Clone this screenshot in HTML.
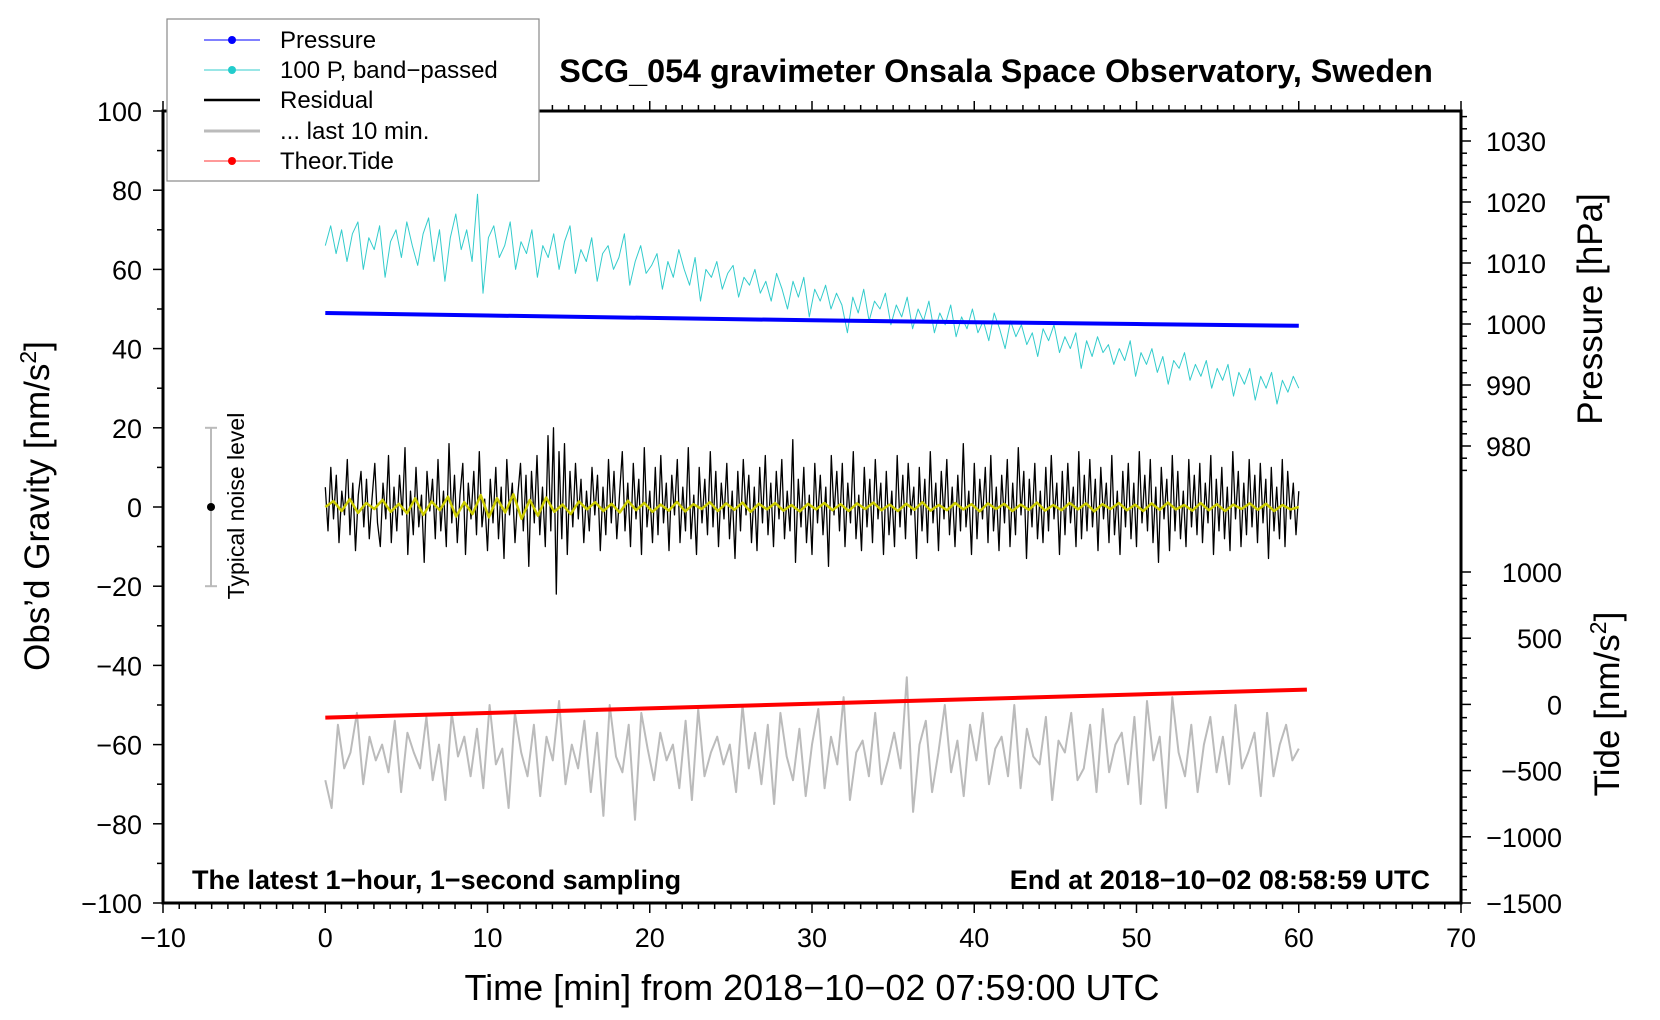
<!DOCTYPE html>
<html><head><meta charset="utf-8">
<style>
body{margin:0;background:#fff;}
svg{display:block;font-family:"Liberation Sans",sans-serif;}
</style></head>
<body>
<svg id="chart" width="1660" height="1020" viewBox="0 0 1660 1020">
<g id="plot"></g>
</svg>
<script>
// ---- data ----
const xTicks = [-10,0,10,20,30,40,50,60,70];
const yTicks = [100,80,60,40,20,0,-20,-40,-60,-80,-100];
const pTicks = [1030,1020,1010,1000,990,980];
const tTicks = [1000,500,0,-500,-1000,-1500];
const pressureTime = [0.0, 10, 20, 30, 40, 50, 60];
const pressureVals = [1001.8, 1001.4, 1001.0, 1000.6, 1000.3, 1000.0, 999.7];
const tideTime = [0, 60.5];
const tideVals = [-100, 112];
const cyanVals = [66,71,64,70,62,69,72,60,68,65,71,58,67,70,63,72,66,61,69,73,62,70,57,68,74,65,70,62,79,54,68,71,63,66,72,60,67,64,70,58,
66,63,69,60,67,71,59,65,62,68,57,64,66,60,63,69,56,62,66,59,61,64,55,62,58,65,60,56,63,52,60,58,62,55,59,61,53,58,56,60,
54,57,52,59,55,50,57,53,58,48,55,52,56,50,54,51,44,53,49,55,47,52,50,54,46,51,48,53,45,50,47,52,44,49,46,51,43,48,45,50,
44,47,42,49,45,40,47,43,46,41,44,38,45,42,46,39,43,40,44,35,42,38,43,39,41,36,40,37,42,33,39,36,40,34,38,31,37,35,39,32,
36,33,37,30,35,32,36,28,34,31,35,27,33,30,34,26,32,29,33,30];
const resVals = [5,-6,10,-3,8,-9,4,-2,12,-7,6,-11,3,9,-5,7,-8,2,11,-4,-10,6,-3,13,-9,5,-6,8,-2,15,-12,4,-7,10,-5,3,-14,9,-1,7,
-8,12,-6,4,-10,16,-4,8,-9,3,11,-12,6,-3,9,-7,14,-5,2,-11,7,-4,10,-8,5,-13,12,-2,6,-9,3,11,-6,8,-15,9,-4,13,-7,5,
-10,18,-6,20,-22,14,-8,16,-12,9,-5,11,-3,7,-9,4,-6,10,-2,8,-11,5,-7,12,-4,9,-8,3,14,-6,6,-10,11,-3,7,-12,15,-5,4,-9,
10,-7,13,-4,6,-11,8,-2,12,-9,5,-6,15,-8,3,-12,10,-4,7,-7,14,-5,9,-10,6,-3,11,-8,4,-13,9,-6,12,-2,8,-9,5,-11,10,-4,
13,-7,6,-10,9,-3,12,-8,4,-6,17,-14,7,-5,10,-9,3,-12,11,-4,8,-7,5,-15,13,-2,9,-6,11,-10,6,-4,14,-8,3,-11,10,-5,7,-9,
12,-3,6,-12,9,-7,4,-10,13,-5,8,-8,11,-2,5,-13,10,-6,7,-9,14,-4,6,-11,9,-3,12,-7,5,-10,8,-6,16,-5,4,-12,11,-8,7,-3,
10,-9,13,-6,5,-11,8,-4,12,-10,6,-7,15,-2,9,-13,7,-5,11,-8,4,-9,10,-6,13,-3,6,-12,9,-7,11,-4,5,-10,14,-8,8,-6,12,-5,
7,-11,10,-3,6,-9,13,-7,4,-12,9,-5,11,-8,6,-10,14,-4,8,-6,12,-9,5,-14,10,-3,7,-11,13,-6,9,-8,4,-10,12,-5,8,-7,11,-9,
6,-4,13,-12,7,-6,10,-8,5,-11,14,-3,9,-10,6,-7,12,-5,8,-9,11,-4,7,-13,10,-6,5,-8,12,-10,9,-3,6,-7,4];
const yelVals = [0,1.5,-1,2,-1.5,1,-0.5,1.8,-1.2,0.8,-1.6,2.2,-2,1.4,-0.8,2.6,-2.4,1.2,-1.8,3,-2.6,2.2,-1.4,3.2,-3,1.8,-2.2,2.4,-1.2,0.6,
-1.8,1.4,-0.6,1.2,-1,0.8,-1.4,1.6,-0.8,1,-1.2,0.6,-0.9,1.3,-1.1,0.7,-0.5,1.2,-1,0.9,-0.7,1.1,-1.2,0.8,-0.6,1,-0.9,0.5,-1.1,0.8,
-0.6,1,-0.8,0.7,-1,0.9,-0.5,1.1,-0.8,0.6,-1,0.8,-0.7,1.2,-0.9,0.5,-0.8,1,-0.6,0.7,-1.1,0.9,-0.5,0.8,-1,0.6,-0.7,1.1,-0.9,0.5,
-0.8,1,-0.6,0.9,-1.1,0.7,-0.5,1,-0.8,0.6,-1,0.9,-0.7,1.1,-0.6,0.5,-0.9,1,-0.8,0.7,-1,0.6,-0.5,0.9,-0.7,0.8,-1,0.5,-0.6,0];
const grayVals = [-69,-76,-55,-66,-62,-52,-70,-58,-64,-60,-67,-54,-72,-57,-62,-66,-53,-69,-60,-74,-52,-63,-58,-68,-56,-71,-50,-65,-61,-76,
-52,-62,-68,-55,-73,-58,-64,-49,-70,-60,-66,-54,-72,-57,-78,-50,-63,-67,-55,-79,-52,-61,-69,-57,-64,-60,-71,-54,-74,-51,
-68,-62,-58,-65,-60,-72,-50,-66,-57,-70,-55,-75,-52,-63,-69,-56,-73,-60,-51,-71,-58,-65,-48,-74,-62,-59,-68,-52,-70,-64,
-57,-66,-43,-77,-60,-54,-72,-62,-50,-67,-59,-73,-55,-64,-52,-70,-61,-58,-68,-50,-71,-56,-63,-65,-53,-74,-59,-62,-52,-69,
-66,-55,-72,-51,-67,-60,-57,-70,-53,-75,-49,-64,-58,-76,-48,-62,-68,-55,-72,-60,-53,-67,-58,-70,-50,-66,-62,-57,-73,-52,
-68,-60,-55,-64,-61];

// ---- axes ----
const L=163, R=1461, T=111, B=903;
const X = m => L + (m+10)/80*(R-L);
const Y = v => T + (100-v)/200*(B-T);
const P = p => 141 + (1030-p)/50*(446-141);
const TD = t => 572 + (1000-t)/2500*(903-572);

const svg=document.getElementById('plot');
const NS='http://www.w3.org/2000/svg';
function mk(tag,attrs,parent){const e=document.createElementNS(NS,tag);for(const k in attrs)e.setAttribute(k,attrs[k]);(parent||svg).appendChild(e);return e;}
function txt(s,x,y,attrs){const e=mk('text',Object.assign({x:x,y:y},attrs||{}));e.textContent=s;return e;}
function series(xs,ys,color,w,name){
  let d='';for(let i=0;i<xs.length;i++)d+=(i?'L':'M')+xs[i].toFixed(1)+' '+ys[i].toFixed(1);
  const p=mk('path',{d:d,fill:'none',stroke:color,'stroke-width':w,'stroke-linejoin':'round'});
  
  
  return p;
}
const span = arr => arr.map((v,i)=>i*60/(arr.length-1));

{const t=span(cyanVals);series(t.map(X),cyanVals.map(Y),'#33cccc',1,'pressure-bandpassed-line');}
{const t=span(resVals);series(t.map(X),resVals.map(Y),'#000',1.3,'residual-line');}
{const t=span(yelVals);series(t.map(X),yelVals.map(Y),'#cccc00',2.5,'residual-smoothed-line');}
{const t=span(grayVals);series(t.map(X),grayVals.map(Y),'#bbbbbb',2,'last-10-min-line');}
series(pressureTime.map(X),pressureVals.map(P),'#0000ff',4,'pressure-line');
series(tideTime.map(X),tideVals.map(TD),'#ff0000',4,'theoretical-tide-line');

mk('rect',{x:L,y:T,width:R-L,height:B-T,fill:'none',stroke:'#000','stroke-width':3,});
for(let m=-10;m<=70;m++){const x=X(m);const major=m%10===0;
  mk('line',{x1:x,y1:B,x2:x,y2:B+(major?10:6),stroke:'#000','stroke-width':1.5});
  mk('line',{x1:x,y1:T,x2:x,y2:T-(major?10:6),stroke:'#000','stroke-width':1.5});}
xTicks.forEach(m=>{const e=txt(String(m).replace('-','\u2212'),X(m),947,{'font-size':27,'text-anchor':'middle'});
  });
for(let v=-100;v<=100;v+=10){const y=Y(v);const major=v%20===0;
  mk('line',{x1:L,y1:y,x2:L-(major?10:6),y2:y,stroke:'#000','stroke-width':1.5});}
yTicks.forEach(v=>{const e=txt(String(v).replace('-','\u2212'),L-21,Y(v)+10,{'font-size':27,'text-anchor':'end'});
  });
for(let p=976;p<=1034;p+=2){const y=P(p);const major=p%10===0;
  mk('line',{x1:R,y1:y,x2:R+(major?10:6),y2:y,stroke:'#000','stroke-width':1.5});}
pTicks.forEach(p=>{const e=txt(String(p),1486,P(p)+10,{'font-size':27});
  });
for(let t=-1500;t<=1000;t+=100){const y=TD(t);const major=t%500===0;
  mk('line',{x1:R,y1:y,x2:R+(major?10:6),y2:y,stroke:'#000','stroke-width':1.5});}
tTicks.forEach(t=>{const e=txt(String(t).replace('-','\u2212'),1562,TD(t)+10,{'font-size':27,'text-anchor':'end'});
  });
mk('line',{x1:211,y1:Y(20),x2:211,y2:Y(-20),stroke:'#bbb','stroke-width':2,});
mk('line',{x1:205,y1:Y(20),x2:217,y2:Y(20),stroke:'#bbb','stroke-width':2});
mk('line',{x1:205,y1:Y(-20),x2:217,y2:Y(-20),stroke:'#bbb','stroke-width':2});
mk('circle',{cx:211,cy:Y(0),r:4,fill:'#000'});
</script>
<svg width="1660" height="1020" style="position:absolute;left:0;top:0">
<g font-family="Liberation Sans, sans-serif">
<text x="244" y="506" font-size="23" text-anchor="middle" transform="rotate(-90 244 506)">Typical noise level</text>
<text x="996" y="82" font-size="32.3" font-weight="bold" text-anchor="middle">SCG_054 gravimeter Onsala Space Observatory, Sweden</text>
<text x="192" y="889" font-size="27" font-weight="bold">The latest 1−hour, 1−second sampling</text>
<text x="1430" y="889" font-size="27" font-weight="bold" text-anchor="end">End at 2018−10−02 08:58:59 UTC</text>
<text x="812" y="1000" font-size="36" text-anchor="middle">Time [min] from 2018−10−02 07:59:00 UTC</text>
<text x="49" y="506" font-size="35" text-anchor="middle" transform="rotate(-90 49 506)">Obs’d Gravity [nm/s<tspan font-size="23" dy="-13">2</tspan><tspan dy="13">]</tspan></text>
<text x="1602" y="309" font-size="35" text-anchor="middle" transform="rotate(-90 1602 309)">Pressure [hPa]</text>
<text x="1619" y="704" font-size="35" text-anchor="middle" transform="rotate(-90 1619 704)">Tide [nm/s<tspan font-size="23" dy="-13">2</tspan><tspan dy="13">]</tspan></text>
<g>
<rect x="167" y="19" width="372" height="162" fill="#fff" stroke="#888" stroke-width="1.2"/>
<line x1="204" y1="40" x2="260" y2="40" stroke="#00f" stroke-width="1"/><circle cx="232" cy="40" r="4" fill="#00f"/>
<text x="280" y="48" font-size="24">Pressure</text>
<line x1="204" y1="70" x2="260" y2="70" stroke="#33cccc" stroke-width="1"/><circle cx="232" cy="70" r="4" fill="#22cccc"/>
<text x="280" y="78" font-size="24">100 P, band−passed</text>
<line x1="204" y1="100" x2="260" y2="100" stroke="#000" stroke-width="2.5"/>
<text x="280" y="108" font-size="24">Residual</text>
<line x1="204" y1="131" x2="260" y2="131" stroke="#bbb" stroke-width="3"/>
<text x="280" y="139" font-size="24">... last 10 min.</text>
<line x1="204" y1="161" x2="260" y2="161" stroke="#f33" stroke-width="1"/><circle cx="232" cy="161" r="4" fill="#f00"/>
<text x="280" y="169" font-size="24">Theor.Tide</text>
</g>
</g>
</svg>
</body></html>
